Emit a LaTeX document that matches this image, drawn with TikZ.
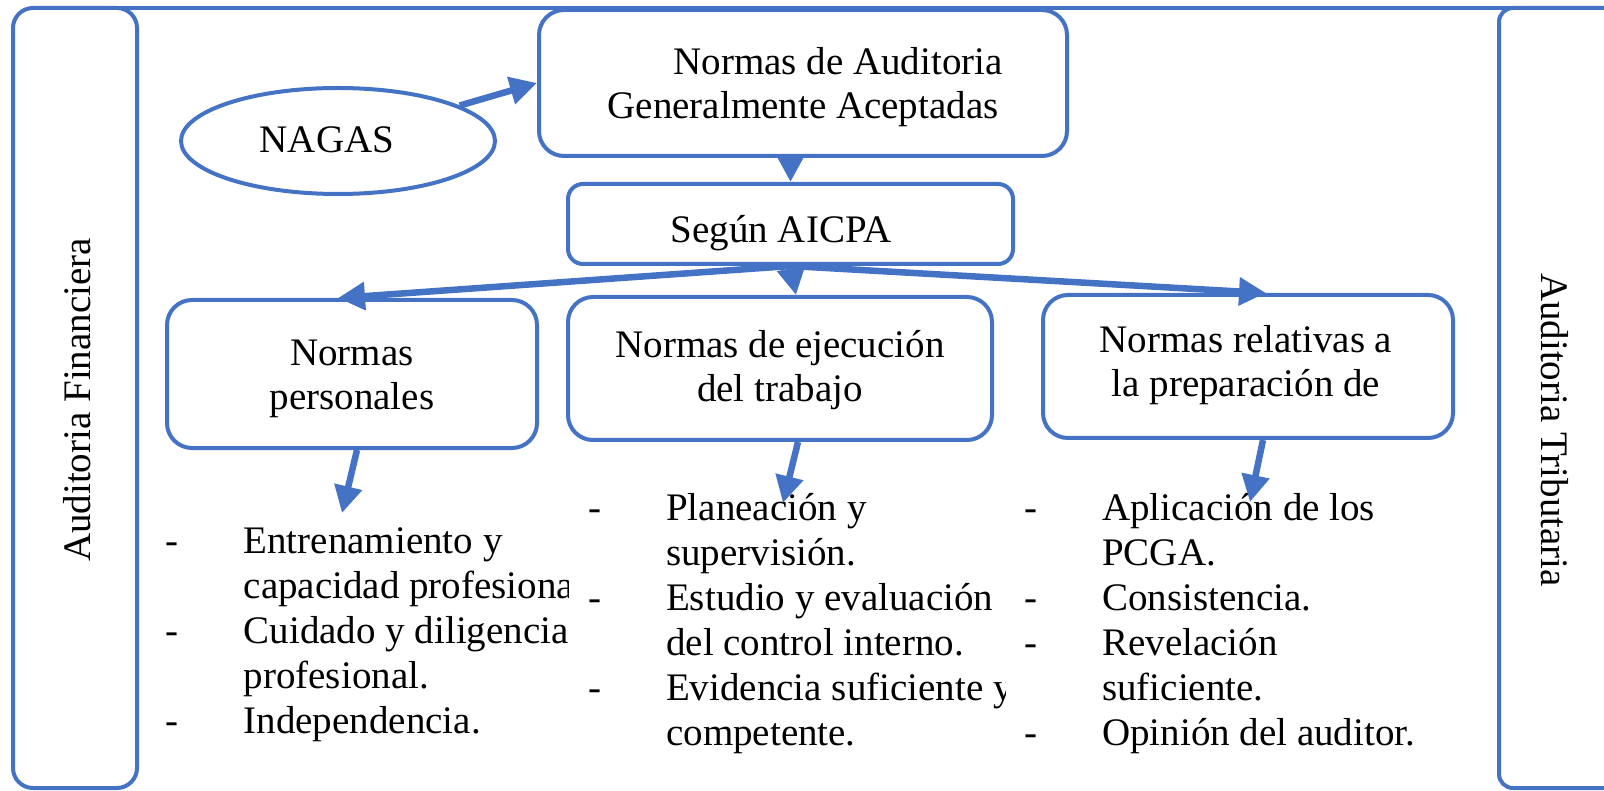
\documentclass[tikz,border=0pt]{standalone}
\usepackage{fontspec}
\setmainfont{Liberation Serif}
\usetikzlibrary{arrows.meta,shapes.geometric,calc}
\definecolor{ofblue}{RGB}{68,114,196}
\newcommand{\itm}[1]{\makebox[78pt][l]{-}#1}
\newcommand{\cnt}[1]{\hspace*{78pt}#1}
\tikzset{
  frame/.style={draw=ofblue, line width=4pt},
  rbox/.style={draw=ofblue, line width=4pt, rounded corners=25pt, inner sep=0pt},
  conn/.style={draw=ofblue, line width=6.5pt, -{Triangle[length=27pt,width=27pt]}},
  txt/.style={inner sep=0pt, font=\fontsize{39}{44}\selectfont, text=black},
  ltxt/.style={inner sep=0pt, font=\fontsize{39}{45}\selectfont, text=black, anchor=base west},
}
\begin{document}
\begin{tikzpicture}[x=1pt,y=-1pt]
\useasboundingbox (0,0) rectangle (1604,791);
\clip (0,0) rectangle (1604,791);
% side panels and top line
\node[frame, rounded corners=20pt, minimum width=124pt, minimum height=780pt, inner sep=0pt] (lp) at (75,398) {};
\draw[frame, rounded corners=14pt] (1700,788) -| (1499,8) -- (1700,8);
\draw[frame] (32,8) -- (1604,8);
\node[txt, rotate=90] (sl) at (77,400) {Auditoria Financiera};
\node[txt, rotate=-90] (sr) at (1555,430) {Auditoria Tributaria};
% nodes
\node[draw=ofblue, line width=4pt, ellipse, minimum width=314pt, minimum height=106pt, inner sep=0pt] (nagas) at (338,141) {};
\node[txt, anchor=base] (tn) at (327,153) {NAGAS};
\node[rbox, minimum width=528pt, minimum height=146pt] (top) at (803,83) {};
\node[txt, anchor=base] (tt) at (803,75) {\parbox[t]{540pt}{\centering\hspace*{70pt}Normas de Auditoria\\Generalmente Aceptadas}};
\node[rbox, rounded corners=15pt, minimum width=445pt, minimum height=80pt] (segun) at (790.5,224) {};
\node[txt, anchor=base] (ts) at (781,243) {Según AICPA};
\node[rbox, minimum width=370pt, minimum height=148pt] (b1) at (352,374) {};
\node[txt, anchor=base] (t1) at (352,366) {\parbox[t]{360pt}{\centering Normas\\personales}};
\node[rbox, minimum width=424pt, minimum height=143pt] (b2) at (780,368.5) {};
\node[txt, anchor=base] (t2) at (780,358) {\parbox[t]{420pt}{\centering Normas de ejecución\\del trabajo}};
\node[rbox, minimum width=410pt, minimum height=143pt] (b3) at (1248,366.5) {};
\node[txt, anchor=base] (t3) at (1246,353) {\parbox[t]{400pt}{\centering Normas relativas a\\la preparación de}};
% lists
\begin{scope}
\clip (150,420) rectangle (568,791);
\node[ltxt] (l1) at (165.5,553) {\parbox[t]{700pt}{\raggedright
\itm{Entrenamiento y}\\
\cnt{capacidad profesiona}\\
\itm{Cuidado y diligencia}\\
\cnt{profesional.}\\
\itm{Independencia.}}};
\end{scope}
\begin{scope}
\clip (575,420) rectangle (1005,791);
\node[ltxt] (l2) at (588,520) {\parbox[t]{700pt}{\raggedright
\itm{Planeación y}\\
\cnt{supervisión.}\\
\itm{Estudio y evaluación}\\
\cnt{del control interno.}\\
\itm{Evidencia suficiente y}\\
\cnt{competente.}}};
\end{scope}
\node[ltxt] (l3) at (1024,520) {\parbox[t]{450pt}{\raggedright
\itm{Aplicación de los}\\
\cnt{PCGA.}\\
\itm{Consistencia.}\\
\itm{Revelación}\\
\cnt{suficiente.}\\
\itm{Opinión del auditor.}}};
% connectors
\draw[conn] (nagas) -- (top.west);
\draw[conn] (segun.north |- top.south) -- (segun.north);
\draw[conn] (segun.south) -- ($(b1.north)+(-14,0)$);
\draw[conn] (segun.south) -- ($(b2.north)+(16,0)$);
\draw[conn] (segun.south) -- ($(b3.north)+(18,0)$);
\coordinate (d1) at (342,513);
\coordinate (d2) at (783,503);
\coordinate (d3) at (1250,502);
\draw[conn] ($(b1.south)+(5,0)$) -- (d1);
\draw[conn] ($(b2.south)+(18,0)$) -- (d2);
\draw[conn] ($(b3.south)+(15,0)$) -- (d3);
\end{tikzpicture}
\end{document}
